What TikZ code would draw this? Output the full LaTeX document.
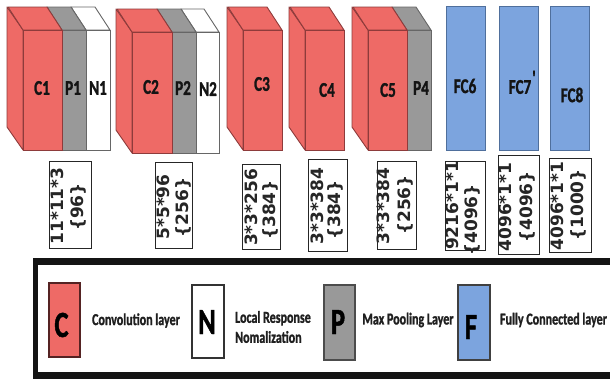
\documentclass[tikz,border=0pt]{standalone}
\usepackage{fontspec}
\setmainfont{Carlito}
\newfontfamily\cond[FakeStretch=0.72,BoldFeatures={FakeBold=1.2}]{Carlito}
\newfontfamily\dej{DejaVu Sans}
\definecolor{cred}{HTML}{EE6A66}
\definecolor{cgrey}{HTML}{999999}
\definecolor{cblue}{HTML}{7CA4DE}
\definecolor{ered}{HTML}{8E3B3B}
\definecolor{egrey}{HTML}{666666}
\definecolor{eblue}{HTML}{4F6F9C}
\tikzset{
  x=1pt,y=-1pt,
  layertext/.style={font=\cond\bfseries\fontsize{21}{21}\selectfont,text=black!92,inner sep=0pt},
  legendtext/.style={font=\cond\bfseries\fontsize{16.7}{20}\selectfont,text=black!88,inner sep=0pt,align=left},
  legendletter/.style={font=\cond\bfseries\fontsize{37}{37}\selectfont,text=black,inner sep=0pt},
  sizebox/.style={draw=black!85,line width=0.9pt,fill=white,inner sep=0pt},
  sizetext/.style={font=\dej\bfseries\fontsize{17}{17}\selectfont,text=black!85,rotate=90,inner sep=0pt},
  legendbox/.style={line width=1.1pt,inner sep=0pt},
  fcbox/.style={draw=eblue,line width=0.9pt,fill=cblue},
}
% front-left, front-right, front-top, bottom, fill, edge
\newcommand{\slab}[6]{%
  \draw[draw=#6,line width=0.9pt,fill=#5,line join=round]
    ({#1-15},{#3-23}) -- ({#2-15},{#3-23}) -- (#2,#3) -- (#1,#3) -- cycle;
  \draw[draw=#6,line width=0.9pt,fill=#5] (#1,#3) rectangle (#2,#4);
}
% left face: front-left, front-top, bottom
\newcommand{\sidef}[3]{%
  \draw[draw=ered,line width=0.9pt,fill=cred,line join=round]
    ({#1-16},{#2-23}) -- (#1,#2) -- (#1,#3) -- ({#1-16},{#3-23}) -- cycle;
}
\begin{document}
\begin{tikzpicture}
\useasboundingbox (0,0) rectangle (610,381);
\fill[white] (0,0) rectangle (610,381);

% block 1
\sidef{23}{30}{150}
\slab{86}{110}{30}{150}{white}{egrey}
\slab{62}{86}{30}{150}{cgrey}{egrey}
\slab{23}{62}{30}{150}{cred}{ered}
\node[layertext] (c1) at (42,88) {C1};
\node[layertext] (p1) at (73,88) {P1};
\node[layertext] (n1) at (98,88) {N1};

% block 2
\sidef{132}{32}{153}
\slab{196}{219}{32}{153}{white}{egrey}
\slab{172}{196}{32}{153}{cgrey}{egrey}
\slab{132}{172}{32}{153}{cred}{ered}
\node[layertext] (c2) at (151,87) {C2};
\node[layertext] (p2) at (183,88) {P2};
\node[layertext] (n2) at (208,89) {N2};

% C3, C4
\sidef{243}{30}{150}
\slab{243}{282}{30}{150}{cred}{ered}
\node[layertext] (c3) at (262,84) {C3};
\sidef{305}{30}{150}
\slab{305}{344}{30}{150}{cred}{ered}
\node[layertext] (c4) at (327,90) {C4};

% block 5
\sidef{368}{30}{150}
\slab{407}{431}{30}{150}{cgrey}{egrey}
\slab{368}{407}{30}{150}{cred}{ered}
\node[layertext] (c5) at (388,90) {C5};
\node[layertext] (p4) at (421,88) {P4};

% FC
\node[fcbox,minimum width=39pt,minimum height=144pt,inner sep=0pt] (fc6box) at (465.5,78) {};
\node[fcbox,minimum width=39pt,minimum height=144pt,inner sep=0pt] (fc7box) at (518.5,78) {};
\node[fcbox,minimum width=39pt,minimum height=144pt,inner sep=0pt] (fc8box) at (569.5,78) {};
\node[layertext] (fc6) at (465,86) {FC6};
\node[layertext] (fc7) at (520,87) {FC7};
\node[layertext] (fc7p) at (534,78) {'};
\node[layertext] (fc8) at (572,95) {FC8};

% size boxes
\node[sizebox,minimum width=42pt,minimum height=87pt] (b1) at (70,204.5) {};
\node[sizetext] (t1a) at (57,206) {11*11*3};
\node[sizetext] (t1b) at (78,207) {\{96\}};
\node[sizebox,minimum width=37pt,minimum height=86pt] (b2) at (173.5,205) {};
\node[sizetext] (t2a) at (163,207) {5*5*96};
\node[sizetext] (t2b) at (183,207.5) {\{256\}};
\node[sizebox,minimum width=38pt,minimum height=85pt] (b3) at (261,206.5) {};
\node[sizetext] (t3a) at (251,207.5) {3*3*256};
\node[sizetext] (t3b) at (270,210) {\{384\}};
\node[sizebox,minimum width=39pt,minimum height=92pt] (b4) at (327.5,205) {};
\node[sizetext] (t4a) at (317,206) {3*3*384};
\node[sizetext] (t4b) at (335,210) {\{384\}};
\node[sizebox,minimum width=39pt,minimum height=88pt] (b5) at (396.5,205) {};
\node[sizetext] (t5a) at (383,206) {3*3*384};
\node[sizetext] (t5b) at (405,205) {\{256\}};
\node[sizebox,minimum width=40pt,minimum height=89pt] (b6) at (465,205.5) {};
\node[sizetext] (t6a) at (452,205.5) {9216*1*1};
\node[sizetext] (t6b) at (472,220) {\{4096\}};
\node[sizebox,minimum width=41pt,minimum height=99pt] (b7) at (518.5,204.5) {};
\node[sizetext] (t7a) at (505,207) {4096*1*1};
\node[sizetext] (t7b) at (527,207) {\{4096\}};
\node[sizebox,minimum width=42pt,minimum height=94pt] (b8) at (570,205) {};
\node[sizetext] (t8a) at (557,206) {4096*1*1};
\node[sizetext] (t8b) at (578,205) {\{1000\}};

% legend frame (open to the right edge)
\fill[black!92] (33,258) rectangle (610,264.5);
\fill[black!92] (33,372) rectangle (610,379);
\fill[black!92] (33,258) rectangle (38,379);

% legend
\node[legendbox,draw=ered!60!black,fill=cred,minimum width=31pt,minimum height=74pt] (lc) at (64.5,320) {};
\node[legendletter] (lct) at (61.5,325) {C};
\node[legendtext] (lcl) at (136,320.5) {Convolution layer};
\node[legendbox,draw=black!80,fill=white,minimum width=32pt,minimum height=73pt] (ln) at (208,321.5) {};
\node[legendletter] (lnt) at (207,322) {N};
\node[legendtext,anchor=west] (lnl) at (235,327) {Local Response\\Nomalization};
\node[legendbox,draw=black!70,fill=cgrey,minimum width=31pt,minimum height=75pt] (lp) at (339.5,322.5) {};
\node[legendletter] (lpt) at (338,322) {P};
\node[legendtext] (lpl) at (408,320) {Max Pooling Layer};
\node[legendbox,draw=black!75,fill=cblue,minimum width=32pt,minimum height=75pt] (lf) at (474,322.5) {};
\node[legendletter] (lft) at (471,327) {F};
\node[legendtext] (lfl) at (553.5,320) {Fully Connected layer};
\end{tikzpicture}
\end{document}
